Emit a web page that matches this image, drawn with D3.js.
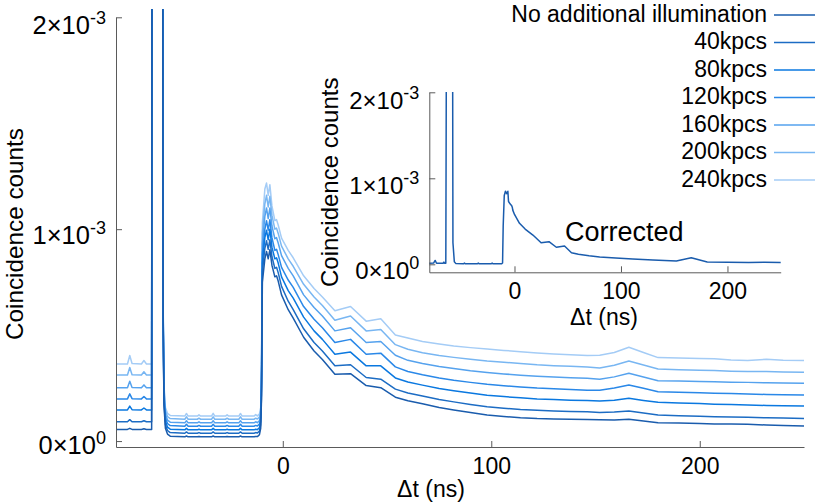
<!DOCTYPE html>
<html><head><meta charset="utf-8">
<script src="https://cdn.jsdelivr.net/npm/d3@7"></script>
<style>
body{margin:0;background:#fff}
svg{display:block}
text{font-family:"Liberation Sans",Arial,Helvetica,sans-serif;fill:#000}
</style>
</head><body>
<svg id="c" width="830" height="503"></svg>
<script>
// ---- data (values in units of 1e-3 coincidence counts) ----
const dt = [-80,-74.5,-73.4,-72.3,-67.8,-66.6,-65.4,-62.9,-62.5,-58.0,
  -57.4,-57.0,-56.3,-55.3,-54.0,-47.0,-46.2,-45.4,-41.0,-40.2,
  -39.4,-34.2,-33.4,-32.6,-27.5,-26.7,-25.9,-21.1,-20.3,-19.5,
  -13.8,-13.0,-12.2,-11.2,-10.6,-10.2,-9.8,-8.6,-7.8,-7.0,
  -6.2,-5.2,-3.8,-3.0,-2.2,-0.6,2.6,5,10,15,
  19,25,32.5,40,47,54,60,67,75,82,
  90,98,106,114,122,130,138,146,152,159,
  166,173,180,190,200,207,215,223,232,240,250];

const noIllum = [0.055,0.055,0.060,0.055,0.055,0.058,0.055,0.055,6,6,
  0.57,0.17,0.06,0.033,0.023,0.020,0.024,0.020,0.020,0.022,
  0.020,0.020,0.024,0.020,0.020,0.022,0.020,0.020,0.024,0.020,
  0.020,0.022,0.021,0.030,0.06,0.20,0.75,0.86,0.895,0.86,
  0.903,0.83,0.775,0.78,0.755,0.69,0.62,0.58,0.49,0.425,
  0.385,0.315,0.318,0.262,0.252,0.207,0.190,0.176,0.158,0.147,
  0.135,0.123,0.116,0.110,0.106,0.104,0.103,0.102,0.101,0.100,
  0.103,0.095,0.087,0.085,0.083,0.081,0.080,0.079,0.076,0.074,0.071];

const k40 = [0.091,0.091,0.101,0.091,0.091,0.096,0.091,0.091,6,6,
  0.587,0.187,0.077,0.050,0.040,0.037,0.043,0.037,0.037,0.040,
  0.037,0.037,0.043,0.037,0.037,0.040,0.037,0.037,0.043,0.037,
  0.037,0.040,0.038,0.047,0.077,0.22,0.80,0.91,0.945,0.905,
  0.95,0.87,0.815,0.82,0.795,0.73,0.66,0.62,0.53,0.465,
  0.425,0.355,0.36,0.30,0.292,0.245,0.227,0.213,0.196,0.185,
  0.173,0.162,0.155,0.149,0.145,0.142,0.140,0.138,0.135,0.137,
  0.142,0.133,0.123,0.120,0.117,0.115,0.113,0.112,0.110,0.109,0.107];

const k80 = [0.147,0.147,0.165,0.148,0.147,0.156,0.147,0.147,6,6,
  0.603,0.203,0.093,0.066,0.056,0.053,0.060,0.053,0.053,0.056,
  0.053,0.053,0.060,0.053,0.053,0.056,0.053,0.053,0.060,0.053,
  0.053,0.056,0.054,0.063,0.093,0.25,0.84,0.96,0.995,0.95,
  1.0,0.915,0.86,0.865,0.84,0.775,0.71,0.675,0.585,0.52,
  0.48,0.41,0.42,0.355,0.355,0.298,0.279,0.264,0.248,0.238,
  0.227,0.216,0.210,0.204,0.199,0.196,0.193,0.191,0.189,0.193,
  0.202,0.192,0.183,0.180,0.177,0.174,0.172,0.170,0.168,0.167,0.165];

const k120 = [0.199,0.199,0.223,0.200,0.199,0.210,0.199,0.199,6,6,
  0.62,0.22,0.11,0.083,0.073,0.070,0.079,0.070,0.070,0.074,
  0.070,0.070,0.079,0.070,0.070,0.074,0.070,0.070,0.079,0.070,
  0.070,0.074,0.071,0.080,0.110,0.28,0.88,1.0,1.04,0.995,
  1.045,0.96,0.90,0.905,0.88,0.82,0.76,0.725,0.635,0.575,
  0.535,0.465,0.48,0.41,0.415,0.350,0.328,0.313,0.298,0.287,
  0.277,0.268,0.261,0.255,0.250,0.247,0.243,0.240,0.240,0.250,
  0.265,0.249,0.233,0.230,0.228,0.226,0.224,0.222,0.220,0.219,0.217];

const k160 = [0.252,0.252,0.282,0.253,0.252,0.265,0.252,0.252,6,6,
  0.636,0.236,0.126,0.099,0.089,0.086,0.096,0.086,0.086,0.091,
  0.086,0.086,0.096,0.086,0.086,0.091,0.086,0.086,0.096,0.086,
  0.086,0.091,0.087,0.096,0.126,0.30,0.93,1.06,1.10,1.05,
  1.10,1.015,0.955,0.96,0.935,0.875,0.815,0.78,0.69,0.63,
  0.59,0.52,0.535,0.465,0.47,0.405,0.381,0.366,0.352,0.342,
  0.332,0.324,0.317,0.311,0.306,0.302,0.299,0.297,0.292,0.303,
  0.320,0.302,0.285,0.283,0.281,0.280,0.278,0.277,0.275,0.274,0.273];

const k200 = [0.312,0.312,0.347,0.313,0.312,0.327,0.312,0.312,6,6,
  0.653,0.253,0.143,0.116,0.106,0.103,0.114,0.103,0.103,0.108,
  0.103,0.103,0.114,0.103,0.103,0.108,0.103,0.103,0.114,0.103,
  0.103,0.108,0.104,0.113,0.143,0.33,0.98,1.12,1.16,1.105,
  1.155,1.065,1.0,1.005,0.98,0.92,0.86,0.825,0.74,0.68,
  0.64,0.57,0.59,0.52,0.527,0.455,0.433,0.417,0.404,0.395,
  0.386,0.378,0.372,0.366,0.360,0.356,0.353,0.350,0.345,0.358,
  0.378,0.359,0.340,0.337,0.334,0.333,0.330,0.328,0.328,0.326,0.325];

const k240 = [0.364,0.364,0.404,0.366,0.364,0.380,0.364,0.364,6,6,
  0.668,0.268,0.158,0.131,0.121,0.118,0.130,0.118,0.118,0.124,
  0.118,0.118,0.131,0.118,0.118,0.124,0.118,0.118,0.130,0.118,
  0.118,0.125,0.119,0.128,0.158,0.36,1.03,1.19,1.218,1.16,
  1.21,1.11,1.04,1.045,1.02,0.958,0.90,0.865,0.78,0.72,
  0.68,0.615,0.635,0.566,0.577,0.501,0.486,0.470,0.458,0.449,
  0.441,0.434,0.428,0.422,0.416,0.411,0.407,0.404,0.405,0.418,
  0.443,0.418,0.394,0.392,0.390,0.388,0.383,0.380,0.386,0.382,0.380];

const dtCorr = [-80,-76,-74.5,-73.2,-67,-66.3,-65.5,-64.5,-63.2,-58.6,
  -57.8,-56.5,-55,-48,-47,-46,-35,-34,-33,-22,
  -21,-20,-12,-11.2,-10.6,-9.6,-8.5,-7.3,-6.2,-5.6,
  -4,-2.6,-2,-1.6,0,4.7,10,17.3,25,32.4,
  39.3,47,53.5,60,70,80,95,111,130,152,
  166,181,200,220,235,250];
const corrected = [0.012,0.014,0.045,0.012,0.012,0.025,0.012,0.012,6,6,
  0.25,0.03,0.008,0.006,0.014,0.006,0.006,0.014,0.006,0.006,
  0.014,0.006,0.006,0.015,0.45,0.80,0.85,0.82,0.85,0.73,
  0.70,0.68,0.66,0.63,0.58,0.477,0.41,0.34,0.25,0.263,
  0.198,0.213,0.135,0.118,0.10,0.085,0.072,0.062,0.05,0.038,
  0.077,0.027,0.025,0.022,0.024,0.022];

const seriesNames = ["No additional illumination","40kpcs","80kpcs","120kpcs","160kpcs","200kpcs","240kpcs"];
const seriesValues = [noIllum,k40,k80,k120,k160,k200,k240];
const xTicks = [0,100,200];
const yTicks = [0,1,2];
const yTickBase = ["0\u00d710","1\u00d710","2\u00d710"];
const yTickExp = ["0","-3","-3"];

// ---- styles ----
const colors = ["#1a5cad","#1c6cc4","#0a78e0","#2a88e8","#55a2ee","#78b6f2","#a4ccf6"];
const corrColor = "#1a5cad";
const FONT = "23px";

const svg = d3.select("#c");
const defs = svg.append("defs");
defs.append("clipPath").attr("id","clipMain").append("rect")
  .attr("x",116).attr("y",9).attr("width",689).attr("height",438);
defs.append("clipPath").attr("id","clipIn").append("rect")
  .attr("x",429).attr("y",92).attr("width",352).attr("height",181);

// main scales
const x = d3.scaleLinear().domain([-80,250]).range([116,804]);
const y = d3.scaleLinear().domain([-0.028,2]).range([447,17.3]);
// inset scales
const xi = d3.scaleLinear().domain([-80,250]).range([429.3,780.7]);
const yi = d3.scaleLinear().domain([-0.093,2]).range([272.3,92.3]);

function styleAxis(g){
  g.attr("font-size",null).attr("font-family",null).attr("color","#5a5a5a");
  g.selectAll("text").style("font-size",FONT).attr("fill","#000");
}
function supLabels(g, offsets, baseSize, supSize){
  g.selectAll(".tick text").each(function(d){
    const t = d3.select(this);
    const k = yTicks.indexOf(d);
    t.text(null).attr("dy",null).attr("y",offsets[k]).style("font-size",baseSize);
    t.append("tspan").text(yTickBase[k]);
    t.append("tspan").text(yTickExp[k]).style("font-size",supSize).attr("dy",-10);
  });
}

// ---- main plot lines (lighter series underneath) ----
const gMain = svg.append("g").attr("clip-path","url(#clipMain)");
const lineMain = d3.line().x((d,i)=>x(dt[i])).y(d=>y(d));
for (let k = seriesValues.length-1; k >= 0; k--) {
  gMain.append("path").attr("d",lineMain(seriesValues[k])).attr("fill","none")
    .attr("stroke",colors[k]).attr("stroke-width",1.5).attr("stroke-linejoin","round");
}

// main axes
const gx = svg.append("g").attr("transform","translate(0,447)")
  .call(d3.axisBottom(x).tickValues(xTicks).tickSize(-6).tickSizeOuter(0).tickPadding(0));
styleAxis(gx);
gx.selectAll(".tick text").attr("dy",null).attr("y",27);
const gy = svg.append("g").attr("transform","translate(116,0)")
  .call(d3.axisLeft(y).tickValues(yTicks).tickSize(-6).tickSizeOuter(0).tickPadding(10));
styleAxis(gy);
supLabels(gy,[12,14.5,16],"25.5px","18px");

svg.append("text").attr("x",431).attr("y",497).attr("text-anchor","middle")
  .style("font-size",FONT).text("\u0394t (ns)");
svg.append("text").attr("transform","translate(23,234) rotate(-90)").attr("text-anchor","middle")
  .style("font-size","24.3px").text("Coincidence counts");

// ---- inset ----
const gIn = svg.append("g").attr("clip-path","url(#clipIn)");
const lineIn = d3.line().x((d,i)=>xi(dtCorr[i])).y(d=>yi(d));
gIn.append("path").attr("d",lineIn(corrected)).attr("fill","none")
  .attr("stroke",corrColor).attr("stroke-width",1.5).attr("stroke-linejoin","round");

const gxi = svg.append("g").attr("transform","translate(0,272.3)")
  .call(d3.axisBottom(xi).tickValues(xTicks).tickSize(-6).tickSizeOuter(0).tickPadding(0));
styleAxis(gxi);
gxi.selectAll(".tick text").attr("dy",null).attr("y",26.5);
const gyi = svg.append("g").attr("transform","translate(429.3,0)")
  .call(d3.axisLeft(yi).tickValues(yTicks).tickSize(-6).tickSizeOuter(0).tickPadding(10));
styleAxis(gyi);
supLabels(gyi,[14,15,16],"24px","18px");

svg.append("text").attr("x",604).attr("y",324.5).attr("text-anchor","middle")
  .style("font-size",FONT).text("\u0394t (ns)");
svg.append("text").attr("transform","translate(338,182.3) rotate(-90)").attr("text-anchor","middle")
  .style("font-size","24px").text("Coincidence counts");
svg.append("text").attr("x",565).attr("y",241).style("font-size","27px").text("Corrected");

// ---- legend ----
const gLeg = svg.append("g");
seriesNames.forEach((n,k)=>{
  const yy = 15 + k*27.5;
  gLeg.append("text").attr("x",767).attr("y",yy+6.8).attr("text-anchor","end")
    .style("font-size",FONT).text(n);
  gLeg.append("line").attr("x1",774).attr("x2",815).attr("y1",yy).attr("y2",yy)
    .attr("stroke",colors[k]).attr("stroke-width",1.5);
});
</script>
</body></html>
